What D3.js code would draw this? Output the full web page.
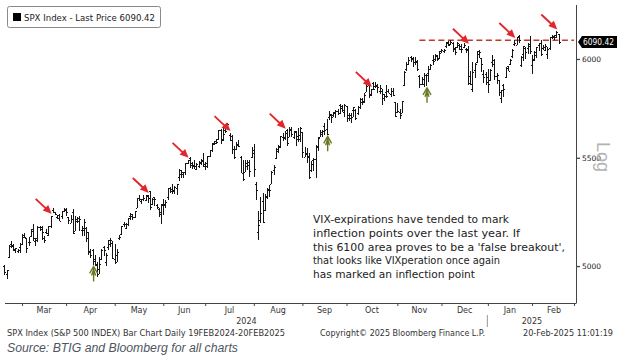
<!DOCTYPE html>
<html>
<head>
<meta charset="utf-8">
<script src="https://cdn.jsdelivr.net/npm/d3@7"></script>
<style>
  body { margin: 0; background: #fff; }
  svg { display: block; }
  .axis path, .axis line { stroke: #444; }
  .axis text { font-family: "DejaVu Sans", sans-serif; font-size: 7.5px; fill: #222; }
</style>
</head>
<body>
<svg id="chart" width="620" height="363"></svg>
<script>
// daily bars: date, open, high, low, close
const feb24 = [
  ["2024-02-20",5000,5004,4963,4976],["2024-02-21",4963,4983,4946,4982],["2024-02-22",5039,5094,5038,5087],
  ["2024-02-23",5100,5111,5081,5089],["2024-02-26",5093,5097,5068,5070],["2024-02-27",5074,5081,5058,5078],
  ["2024-02-28",5067,5077,5058,5070],["2024-02-29",5086,5104,5062,5096]
];
const mar24 = [
  ["2024-03-01",5099,5141,5094,5137],["2024-03-04",5131,5149,5127,5131],["2024-03-05",5124,5127,5061,5079],
  ["2024-03-06",5109,5128,5092,5105],["2024-03-07",5132,5165,5132,5157],["2024-03-08",5164,5190,5114,5124],
  ["2024-03-11",5111,5125,5092,5118],["2024-03-12",5124,5180,5110,5175],["2024-03-13",5174,5180,5160,5165],
  ["2024-03-14",5175,5179,5118,5150],["2024-03-15",5124,5136,5105,5117],["2024-03-18",5154,5166,5147,5149],
  ["2024-03-19",5139,5180,5137,5179],["2024-03-20",5181,5226,5171,5225],["2024-03-21",5254,5262,5240,5242],
  ["2024-03-22",5243,5246,5230,5234],["2024-03-25",5220,5230,5216,5218],["2024-03-26",5229,5236,5203,5204],
  ["2024-03-27",5226,5249,5213,5248],["2024-03-28",5248,5264,5246,5254]
];
const apr24 = [
  ["2024-04-01",5258,5263,5229,5244],["2024-04-02",5221,5221,5191,5206],["2024-04-03",5195,5229,5194,5211],
  ["2024-04-04",5245,5256,5146,5147],["2024-04-05",5159,5223,5157,5204],["2024-04-08",5211,5220,5197,5202],
  ["2024-04-09",5217,5224,5160,5210],["2024-04-10",5160,5179,5138,5161],["2024-04-11",5172,5211,5138,5199],
  ["2024-04-12",5171,5175,5108,5123],["2024-04-15",5150,5151,5053,5062],["2024-04-16",5065,5076,5040,5051],
  ["2024-04-17",5069,5077,5007,5022],["2024-04-18",5032,5049,5001,5011],["2024-04-19",5006,5019,4953,4967],
  ["2024-04-22",4988,5038,4969,5011],["2024-04-23",5029,5076,5028,5071],["2024-04-24",5085,5089,5047,5072],
  ["2024-04-25",5020,5057,5002,5048],["2024-04-26",5085,5114,5073,5100],["2024-04-29",5114,5123,5089,5116],
  ["2024-04-30",5103,5110,5035,5036]
];
const may24 = [
  ["2024-05-01",5029,5096,5013,5018],["2024-05-02",5050,5074,5020,5064],["2024-05-03",5123,5140,5117,5128],
  ["2024-05-06",5142,5181,5142,5181],["2024-05-07",5188,5200,5179,5188],["2024-05-08",5169,5191,5166,5188],
  ["2024-05-09",5190,5215,5181,5214],["2024-05-10",5225,5239,5209,5223],["2024-05-13",5233,5234,5211,5221],
  ["2024-05-14",5221,5250,5220,5247],["2024-05-15",5264,5311,5263,5308],["2024-05-16",5310,5325,5296,5297],
  ["2024-05-17",5303,5306,5284,5303],["2024-05-20",5305,5325,5299,5308],["2024-05-21",5298,5324,5297,5321],
  ["2024-05-22",5319,5323,5287,5307],["2024-05-23",5340,5342,5257,5268],["2024-05-24",5282,5311,5278,5305],
  ["2024-05-28",5315,5315,5272,5306],["2024-05-29",5278,5282,5262,5267],["2024-05-30",5259,5260,5223,5235],
  ["2024-05-31",5244,5280,5191,5278]
];
const jun24 = [
  ["2024-06-03",5283,5302,5234,5283],["2024-06-04",5275,5298,5265,5291],["2024-06-05",5315,5355,5303,5354],
  ["2024-06-06",5357,5362,5335,5353],["2024-06-07",5343,5376,5331,5347],["2024-06-10",5342,5366,5332,5361],
  ["2024-06-11",5354,5376,5327,5375],["2024-06-12",5409,5448,5392,5421],["2024-06-13",5441,5441,5404,5434],
  ["2024-06-14",5424,5432,5404,5432],["2024-06-17",5431,5477,5421,5473],["2024-06-18",5476,5490,5471,5487],
  ["2024-06-20",5499,5505,5455,5473],["2024-06-21",5466,5479,5448,5465],["2024-06-24",5459,5490,5447,5448],
  ["2024-06-25",5461,5473,5446,5469],["2024-06-26",5461,5483,5452,5478],["2024-06-27",5473,5496,5470,5483],
  ["2024-06-28",5488,5524,5460,5460]
];
const jul24 = [
  ["2024-07-01",5471,5480,5446,5475],["2024-07-02",5462,5510,5452,5509],["2024-07-03",5508,5539,5507,5537],
  ["2024-07-05",5537,5571,5533,5567],["2024-07-08",5572,5584,5563,5573],["2024-07-09",5584,5591,5570,5577],
  ["2024-07-10",5592,5636,5588,5634],["2024-07-11",5636,5642,5572,5585],["2024-07-12",5590,5655,5584,5615],
  ["2024-07-15",5638,5667,5624,5631],["2024-07-16",5644,5670,5640,5667],["2024-07-17",5611,5621,5585,5588],
  ["2024-07-18",5608,5614,5523,5545],["2024-07-19",5544,5557,5497,5505],["2024-07-22",5544,5576,5540,5564],
  ["2024-07-23",5566,5586,5553,5556],["2024-07-24",5505,5509,5427,5427],["2024-07-25",5429,5491,5390,5399],
  ["2024-07-26",5433,5488,5432,5459],["2024-07-29",5477,5487,5444,5464],["2024-07-30",5478,5489,5409,5436],
  ["2024-07-31",5506,5551,5501,5522]
];
const aug24 = [
  ["2024-08-01",5537,5567,5412,5447],["2024-08-02",5376,5383,5302,5347],["2024-08-05",5151,5250,5120,5186],
  ["2024-08-06",5206,5312,5194,5240],["2024-08-07",5293,5331,5194,5200],["2024-08-08",5252,5328,5250,5319],
  ["2024-08-09",5312,5356,5307,5344],["2024-08-12",5353,5372,5318,5344],["2024-08-13",5376,5436,5376,5434],
  ["2024-08-14",5442,5463,5420,5455],["2024-08-15",5501,5546,5498,5543],["2024-08-16",5531,5562,5526,5554],
  ["2024-08-19",5557,5608,5550,5608],["2024-08-20",5603,5620,5586,5597],["2024-08-21",5603,5633,5591,5621],
  ["2024-08-22",5637,5643,5561,5571],["2024-08-23",5603,5652,5603,5635],["2024-08-26",5640,5652,5603,5617],
  ["2024-08-27",5602,5631,5593,5626],["2024-08-28",5629,5632,5561,5592],["2024-08-29",5608,5647,5578,5592],
  ["2024-08-30",5612,5651,5581,5648]
];
const sep24 = [
  ["2024-09-03",5624,5626,5500,5529],["2024-09-04",5506,5552,5504,5520],["2024-09-05",5521,5546,5478,5503],
  ["2024-09-06",5507,5523,5402,5408],["2024-09-09",5443,5484,5434,5471],["2024-09-10",5491,5499,5441,5496],
  ["2024-09-11",5496,5560,5406,5554],["2024-09-12",5558,5600,5536,5596],["2024-09-13",5604,5637,5604,5626],
  ["2024-09-16",5615,5637,5604,5633],["2024-09-17",5655,5670,5615,5635],["2024-09-18",5641,5690,5615,5618],
  ["2024-09-19",5703,5733,5687,5714],["2024-09-20",5709,5715,5675,5703],["2024-09-23",5712,5725,5704,5719],
  ["2024-09-24",5728,5736,5699,5733],["2024-09-25",5733,5741,5716,5722],["2024-09-26",5762,5767,5721,5745],
  ["2024-09-27",5755,5764,5727,5738],["2024-09-30",5727,5765,5703,5762]
];
const oct24 = [
  ["2024-10-01",5757,5757,5681,5709],["2024-10-02",5698,5720,5683,5710],["2024-10-03",5698,5719,5675,5700],
  ["2024-10-04",5738,5753,5704,5751],["2024-10-07",5737,5739,5690,5696],["2024-10-08",5719,5758,5713,5751],
  ["2024-10-09",5751,5796,5745,5792],["2024-10-10",5778,5795,5764,5780],["2024-10-11",5775,5823,5775,5815],
  ["2024-10-14",5829,5871,5829,5860],["2024-10-15",5866,5871,5800,5815],["2024-10-16",5816,5844,5810,5842],
  ["2024-10-17",5875,5878,5840,5841],["2024-10-18",5860,5879,5849,5865],["2024-10-21",5857,5867,5825,5854],
  ["2024-10-22",5833,5863,5822,5851],["2024-10-23",5835,5842,5762,5797],["2024-10-24",5817,5817,5784,5810],
  ["2024-10-25",5826,5862,5799,5808],["2024-10-28",5833,5842,5823,5824],["2024-10-29",5820,5848,5804,5833],
  ["2024-10-30",5835,5851,5811,5814],["2024-10-31",5776,5776,5703,5705]
];
const nov24 = [
  ["2024-11-01",5724,5772,5723,5729],["2024-11-04",5725,5741,5696,5713],["2024-11-05",5723,5784,5723,5783],
  ["2024-11-06",5864,5937,5864,5929],["2024-11-07",5947,5983,5940,5973],["2024-11-08",5976,6013,5971,5996],
  ["2024-11-11",6008,6018,5986,6001],["2024-11-12",6003,6009,5962,5984],["2024-11-13",5985,6009,5971,5985],
  ["2024-11-14",5990,5993,5942,5949],["2024-11-15",5912,5916,5853,5871],["2024-11-18",5870,5908,5866,5894],
  ["2024-11-19",5869,5925,5855,5917],["2024-11-20",5917,5920,5860,5917],["2024-11-21",5925,5963,5884,5949],
  ["2024-11-22",5947,5973,5945,5969],["2024-11-25",5993,6021,5973,5987],["2024-11-26",6000,6026,5991,6022],
  ["2024-11-27",6015,6020,5992,5999],["2024-11-29",6004,6044,6003,6032]
];
const dec24 = [
  ["2024-12-02",6040,6053,6034,6047],["2024-12-03",6042,6053,6033,6050],["2024-12-04",6069,6089,6061,6086],
  ["2024-12-05",6089,6094,6071,6075],["2024-12-06",6082,6100,6077,6090],["2024-12-09",6083,6089,6040,6053],
  ["2024-12-10",6058,6066,6024,6035],["2024-12-11",6061,6092,6059,6084],["2024-12-12",6075,6080,6050,6051],
  ["2024-12-13",6068,6078,6035,6051],["2024-12-16",6063,6085,6059,6074],["2024-12-17",6053,6057,6036,6051],
  ["2024-12-18",6047,6070,5867,5872],["2024-12-19",5912,5936,5866,5867],["2024-12-20",5842,5983,5832,5931],
  ["2024-12-23",5941,5979,5903,5974],["2024-12-24",5985,6040,5982,6040],["2024-12-26",6025,6049,6007,6038],
  ["2024-12-27",6006,6006,5932,5971],["2024-12-30",5921,5941,5879,5907],["2024-12-31",5920,5929,5869,5882]
];
const jan25 = [
  ["2025-01-02",5904,5949,5825,5869],["2025-01-03",5892,5949,5888,5942],["2025-01-06",5983,6022,5960,5975],
  ["2025-01-07",5994,6001,5891,5909],["2025-01-08",5911,5928,5874,5918],["2025-01-10",5890,5890,5809,5827],
  ["2025-01-13",5797,5838,5773,5836],["2025-01-14",5865,5871,5803,5843],["2025-01-15",5905,5960,5905,5950],
  ["2025-01-16",5961,5964,5937,5937],["2025-01-17",5976,6000,5972,5997],["2025-01-21",6014,6051,6007,6049],
  ["2025-01-22",6082,6101,6074,6086],["2025-01-23",6076,6119,6075,6119],["2025-01-24",6121,6128,6089,6101],
  ["2025-01-27",5970,6018,5962,6012],["2025-01-28",6026,6070,5994,6068],["2025-01-29",6058,6062,6005,6039],
  ["2025-01-30",6057,6087,6029,6071],["2025-01-31",6082,6121,6030,6041]
];
const feb25 = [
  ["2025-02-03",5970,6022,5924,5995],["2025-02-04",5999,6042,5991,6038],["2025-02-05",6021,6063,6007,6061],
  ["2025-02-06",6073,6084,6045,6084],["2025-02-07",6083,6101,6020,6026],["2025-02-10",6060,6074,6051,6066],
  ["2025-02-11",6050,6077,6044,6069],["2025-02-12",6026,6065,6003,6052],["2025-02-13",6060,6116,6051,6115],
  ["2025-02-14",6115,6127,6108,6115],["2025-02-18",6121,6130,6102,6130],["2025-02-19",6118,6147,6112,6144],
  ["2025-02-20",6134,6134,6080,6090.42]
];

const monthNames = ["Mar", "Apr", "May", "Jun", "Jul", "Aug", "Sep", "Oct", "Nov", "Dec", "Jan", "Feb"];
const yTicks = [5000, 5500, 6000];
const lastPrice = 6090.42;
const resistance = 6100;
const resistanceFrom = "2024-11-15";
// VIX expiration days: tops (red) and bottoms (green)
const vixTops = ["2024-03-20", "2024-05-22", "2024-06-18", "2024-07-17", "2024-08-21", "2024-10-16", "2024-12-18", "2025-01-22", "2025-02-19"];
const vixBottoms = ["2024-04-17", "2024-09-18", "2024-11-20"];
const note = [
  "VIX-expirations have tended to mark",
  "inflection points over the last year. If",
  "this 6100 area proves to be a 'false breakout',",
  "that looks like VIXperation once again",
  "has marked an inflection point"
];

const bars = [feb24, mar24, apr24, may24, jun24, jul24, aug24, sep24, oct24, nov24, dec24, jan25, feb25]
  .flat()
  .map(([date, open, high, low, close]) => ({date, open, high, low, close}));

const svg = d3.select("#chart");
const plotLeft = 5, plotRight = 576, plotTop = 5, plotBottom = 303;

const x = d3.scalePoint().domain(bars.map(b => b.date)).range([4.3, 558.5]);
const y = d3.scaleLog().domain([4840, 6292]).range([plotBottom, plotTop]);
const byDate = new Map(bars.map(b => [b.date, b]));

// month starts
const monthStarts = [];
bars.forEach((b, i) => {
  if (i > 0 && b.date.slice(0, 7) !== bars[i - 1].date.slice(0, 7)) monthStarts.push(b.date);
});

// legend box
svg.append("rect").attr("x", 7.5).attr("y", 6.5).attr("width", 153).attr("height", 21)
  .attr("rx", 2).attr("fill", "#fff").attr("stroke", "#8a8a8a");
svg.append("rect").attr("x", 13).attr("y", 13).attr("width", 8).attr("height", 8).attr("fill", "#000");
svg.append("text").attr("x", 24).attr("y", 21)
  .attr("font-family", "DejaVu Sans, sans-serif").attr("font-size", 9).attr("fill", "#222")
  .attr("textLength", 131).attr("lengthAdjust", "spacingAndGlyphs")
  .text("SPX Index - Last Price " + lastPrice.toFixed(2));

// resistance line
svg.append("line")
  .attr("x1", x(resistanceFrom)).attr("x2", plotRight - 2)
  .attr("y1", y(resistance)).attr("y2", y(resistance))
  .attr("stroke", "#c0392b").attr("stroke-width", 1.5).attr("stroke-dasharray", "6,3.5");

// bars
const g = svg.append("g").attr("stroke", "#151515").attr("stroke-width", 1).attr("shape-rendering", "crispEdges");
g.selectAll("line.hl").data(bars).join("line").attr("class", "hl")
  .attr("x1", d => Math.round(x(d.date)) + 0.5).attr("x2", d => Math.round(x(d.date)) + 0.5)
  .attr("y1", d => y(d.high)).attr("y2", d => y(d.low) + 0.5);
g.selectAll("line.op").data(bars).join("line").attr("class", "op")
  .attr("x1", d => Math.round(x(d.date)) - 1).attr("x2", d => Math.round(x(d.date)))
  .attr("y1", d => Math.round(y(d.open)) + 0.5).attr("y2", d => Math.round(y(d.open)) + 0.5);
g.selectAll("line.cl").data(bars).join("line").attr("class", "cl")
  .attr("x1", d => Math.round(x(d.date)) + 1).attr("x2", d => Math.round(x(d.date)) + 2)
  .attr("y1", d => Math.round(y(d.close)) + 0.5).attr("y2", d => Math.round(y(d.close)) + 0.5);

// red arrows at tops
const red = "#e3262b";
svg.selectAll("g.vtop").data(vixTops).join("g").attr("class", "vtop")
  .attr("transform", d => `translate(${x(d) + 1},${y(byDate.get(d).high) - 2})`)
  .each(function () {
    const a = d3.select(this);
    a.append("line").attr("x1", -16).attr("y1", -15).attr("x2", -4).attr("y2", -3.7)
      .attr("stroke", red).attr("stroke-width", 1.9);
    a.append("path").attr("d", "M0,0 L-9,-3.4 L-3.4,-8.8 Z").attr("fill", red);
  });

// green arrows at bottoms
const green = "#667a22";
svg.selectAll("g.vbot").data(vixBottoms).join("g").attr("class", "vbot")
  .attr("transform", d => `translate(${x(d) + 1},${y(byDate.get(d).low) + 2})`)
  .each(function () {
    const a = d3.select(this);
    a.append("path").attr("d", "M0,15 L0,0 M-4,7 L0,0 L4,7 M-2,9 L0,3 L2,9")
      .attr("fill", "none").attr("stroke", green).attr("stroke-width", 1.4);
  });

// axes
const xAxis = d3.axisBottom(x).tickValues(monthStarts).tickFormat("").tickSize(3).tickSizeOuter(0);
const xa = svg.append("g").attr("class", "axis").attr("transform", `translate(0,${plotBottom})`).call(xAxis);
xa.select(".domain").attr("d", `M${plotLeft},0.5H${plotRight}`);
xa.append("line").attr("x1", plotRight - 1.5).attr("x2", plotRight - 1.5).attr("y1", 0).attr("y2", 3).attr("stroke", "#444");

const yAxis = d3.axisRight(y).tickValues(yTicks).tickFormat(d3.format("d")).tickSize(4).tickPadding(2).tickSizeOuter(0);
const ya = svg.append("g").attr("class", "axis").attr("transform", `translate(${plotRight},0)`).call(yAxis);
ya.select(".domain").attr("d", `M0.5,${plotTop}V${plotBottom + 0.5}`);
ya.selectAll(".tick line").attr("stroke", "#000").attr("stroke-width", 1.3);

// month labels
const starts = monthStarts.map(d => x(d)).concat([plotRight]);
svg.append("g").selectAll("text").data(monthNames).join("text")
  .attr("x", (d, i) => (starts[i] + starts[i + 1]) / 2).attr("y", 313)
  .attr("text-anchor", "middle").attr("font-family", "DejaVu Sans, sans-serif")
  .attr("font-size", 8).attr("fill", "#333").text(d => d);

const janX = x(monthStarts[monthNames.indexOf("Jan")]);
svg.append("text").attr("x", (plotLeft + janX) / 2).attr("y", 324).attr("text-anchor", "middle")
  .attr("font-family", "DejaVu Sans, sans-serif").attr("font-size", 8).attr("fill", "#333").text("2024");
svg.append("text").attr("x", (janX + plotRight) / 2).attr("y", 324).attr("text-anchor", "middle")
  .attr("font-family", "DejaVu Sans, sans-serif").attr("font-size", 8).attr("fill", "#333").text("2025");
svg.append("line").attr("x1", janX - 0.5).attr("x2", janX - 0.5).attr("y1", 315).attr("y2", 327)
  .attr("stroke", "#999");

// last price tag
const ly = y(lastPrice);
svg.append("path")
  .attr("d", `M${plotRight + 2},${ly} L${plotRight + 6},${ly - 6} H${plotRight + 41} V${ly + 6} H${plotRight + 6} Z`)
  .attr("fill", "#000");
svg.append("text").attr("x", plotRight + 7).attr("y", ly + 3)
  .attr("font-family", "DejaVu Sans, sans-serif").attr("font-size", 8).attr("fill", "#fff")
  .attr("textLength", 31).attr("lengthAdjust", "spacingAndGlyphs")
  .text(lastPrice.toFixed(2));

// Log label
svg.append("text").attr("transform", "translate(597,142) rotate(90)")
  .attr("font-family", "Liberation Sans, sans-serif").attr("font-size", 18).attr("fill", "#b4b4b4")
  .text("Log");

// annotation
const noteWidths = [196, 207, 252, 187, 162];
svg.append("g").selectAll("text").data(note).join("text")
  .attr("x", 313).attr("y", (d, i) => 223 + i * 13.8)
  .attr("font-family", "DejaVu Sans, sans-serif").attr("font-size", 11).attr("fill", "#222")
  .attr("textLength", (d, i) => noteWidths[i]).attr("lengthAdjust", "spacingAndGlyphs")
  .text(d => d);

// footer
const foot = svg.append("g").attr("font-family", "DejaVu Sans, sans-serif").attr("font-size", 8).attr("fill", "#333");
foot.append("text").attr("x", 7).attr("y", 336).attr("textLength", 278).attr("lengthAdjust", "spacingAndGlyphs")
  .text("SPX Index (S&P 500 INDEX) Bar Chart  Daily 19FEB2024-20FEB2025");
foot.append("text").attr("x", 320).attr("y", 336).attr("textLength", 165).attr("lengthAdjust", "spacingAndGlyphs")
  .text("Copyright\u00A9 2025 Bloomberg Finance L.P.");
foot.append("text").attr("x", 523).attr("y", 336).attr("textLength", 90).attr("lengthAdjust", "spacingAndGlyphs")
  .text("20-Feb-2025 11:01:19");

svg.append("text").attr("x", 7).attr("y", 352)
  .attr("font-family", "Liberation Sans, sans-serif").attr("font-style", "italic")
  .attr("font-size", 12).attr("fill", "#4d5561")
  .attr("textLength", 231).attr("lengthAdjust", "spacingAndGlyphs")
  .text("Source: BTIG and Bloomberg for all charts");
</script>
</body>
</html>
